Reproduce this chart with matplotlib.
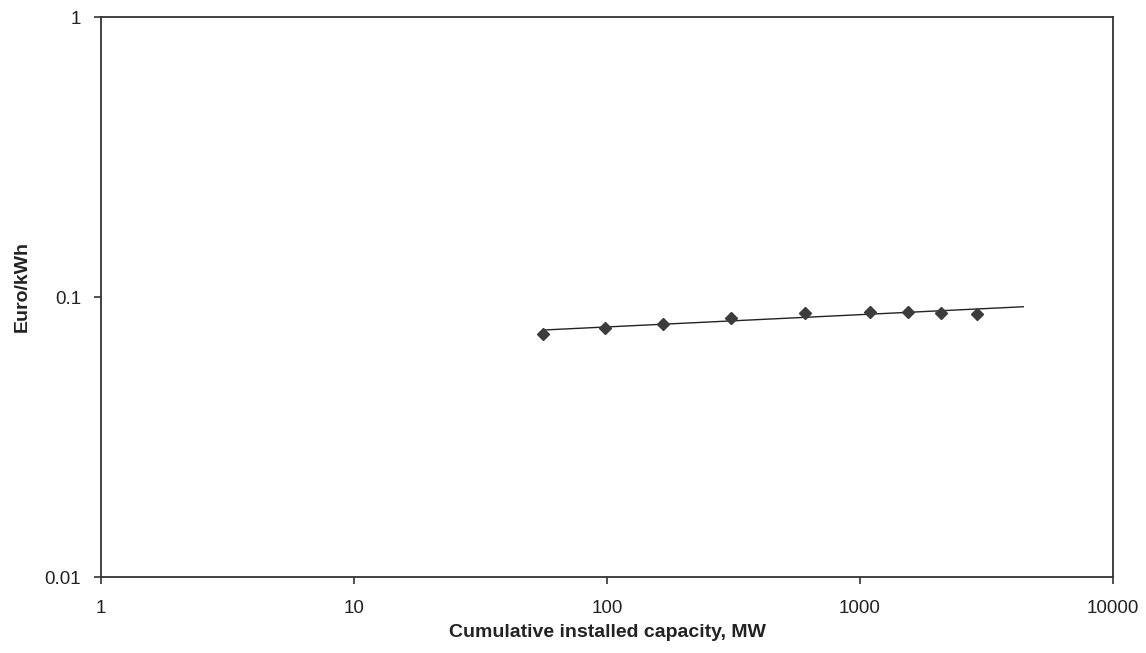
import matplotlib
matplotlib.use("Agg")
import matplotlib.pyplot as plt
from matplotlib.ticker import FixedLocator, FixedFormatter, NullLocator

plt.rcParams['font.family'] = ['Liberation Sans', 'DejaVu Sans']

capacity_mw = [56, 98.5, 167, 310, 606, 1092, 1552, 2084, 2892]
cost_euro_kwh = [0.0738, 0.0777, 0.0803, 0.0844, 0.0879, 0.0886, 0.0884, 0.0879, 0.0872]
trend_x = [55.7, 4418]
trend_y = [0.0762, 0.0923]

xticks = [1, 10, 100, 1000, 10000]
xtick_labels = ["1", "10", "100", "1000", "10000"]
yticks = [0.01, 0.1, 1]
ytick_labels = ["0.01", "0.1", "1"]

W, H = 1146, 653
fig = plt.figure(figsize=(W / 100, H / 100), dpi=100)
ax = fig.add_axes([101 / W, 1 - 577 / H, (1113 - 101) / W, (577 - 17) / H])

ax.plot(trend_x, trend_y, color='#222222', linewidth=1.0, zorder=2)
ax.plot(capacity_mw, cost_euro_kwh, linestyle='none', marker='D', markersize=6.3,
        color='#3c3c3c', zorder=3)

ax.set_xscale('log')
ax.set_yscale('log')
ax.set_xlim(1, 10000)
ax.set_ylim(0.01, 1)
ax.xaxis.set_major_locator(FixedLocator(xticks))
ax.xaxis.set_major_formatter(FixedFormatter(xtick_labels))
ax.yaxis.set_major_locator(FixedLocator(yticks))
ax.yaxis.set_major_formatter(FixedFormatter(ytick_labels))
ax.xaxis.set_minor_locator(NullLocator())
ax.yaxis.set_minor_locator(NullLocator())

for s in ax.spines.values():
    s.set_linewidth(1.3)
    s.set_color('#333333')
ax.tick_params(direction='out', length=5, width=1.2, labelsize=13.5, colors='#333333',
               labelcolor='#222222')
ax.tick_params(axis='x', pad=11.3)
ax.tick_params(axis='y', pad=9.4)

fig.text(607 / W, 1 - 637 / H, "Cumulative installed capacity, MW", fontsize=14,
         fontweight='bold', color='#222222', ha='center', va='baseline')
fig.text(22.5 / W, 1 - 286 / H, "Euro/kWh", fontsize=14, fontweight='bold',
         color='#222222', ha='center', va='center', rotation=90)

fig.savefig("out.png", dpi=100)
